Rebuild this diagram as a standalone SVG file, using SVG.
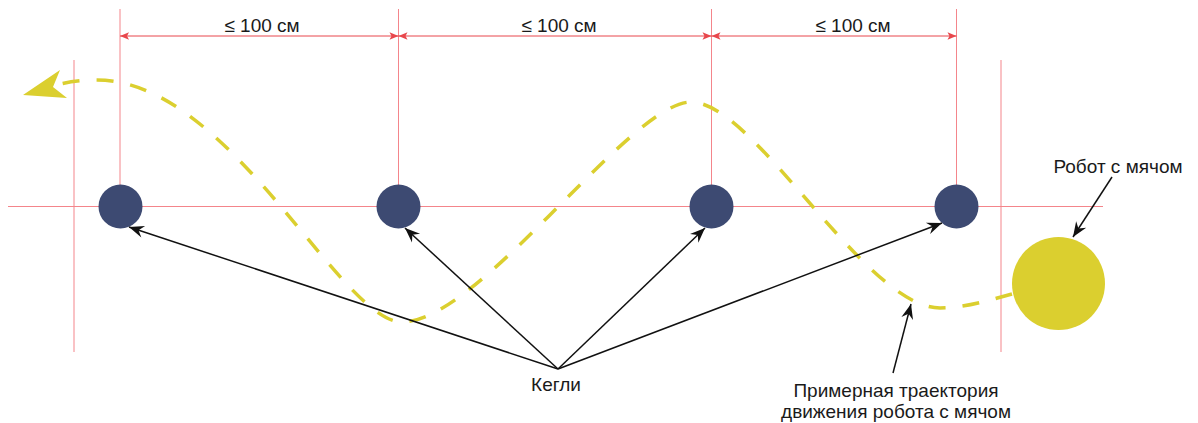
<svg xmlns="http://www.w3.org/2000/svg" width="1198" height="423" viewBox="0 0 1198 423">
<defs>
<style>
.guide{stroke:#f4858b;stroke-width:1;fill:none}
.dim{stroke:#e8474c;stroke-width:1;fill:none;marker-start:url(#dimA);marker-end:url(#dimA)}
.pin{fill:#3d4a72}
.ball{fill:#dbcf2f}
.traj{stroke:#dbcf2f;stroke-width:3.5;fill:none;stroke-dasharray:17 17}
.ptr{stroke:#111;stroke-width:1.5;fill:none;marker-end:url(#blk)}
.lbl{font-family:"Liberation Sans",Arial,sans-serif;font-size:19px;fill:#1a1a1a;text-anchor:middle}
</style>
<marker id="dimA" viewBox="-10 -5 12 10" refX="0" refY="0" markerWidth="12" markerHeight="10" markerUnits="userSpaceOnUse" orient="auto-start-reverse">
<path d="M0,0 L-9,-3.8 L-7,0 L-9,3.8 Z" fill="#e8474c"/>
</marker>
<marker id="blk" viewBox="-16 -7 18 14" refX="0" refY="0" markerWidth="18" markerHeight="14" markerUnits="userSpaceOnUse" orient="auto">
<path d="M0,0 L-15,-6 L-10,0 L-15,6 Z" fill="#111"/>
</marker>
</defs>
<rect width="1198" height="423" fill="#fff"/>
<g id="guides">
<line class="guide" x1="8" y1="206.5" x2="1103" y2="206.5"/>
<line class="guide" x1="74" y1="60" x2="74" y2="352"/>
<line class="guide" x1="1001" y1="60" x2="1001" y2="352"/>
<line class="guide" x1="120" y1="9" x2="120" y2="206"/>
<line class="guide" x1="398.5" y1="9" x2="398.5" y2="206"/>
<line class="guide" x1="711.5" y1="9" x2="711.5" y2="206"/>
<line class="guide" x1="956.5" y1="9" x2="956.5" y2="206"/>
</g>
<g id="dimensions">
<line class="dim" x1="120" y1="36" x2="398.5" y2="36"/>
<line class="dim" x1="398.5" y1="36" x2="711.5" y2="36"/>
<line class="dim" x1="711.5" y1="36" x2="956.5" y2="36"/>
<text class="lbl" x="262" y="32">≤ 100 см</text>
<text class="lbl" x="559" y="32">≤ 100 см</text>
<text class="lbl" x="853" y="32">≤ 100 см</text>
</g>
<g id="trajectory">
<path class="traj" d="M1012,294 C990,300 965,308 940,308 C865,308 755,102 691,102 C630,102 480,322 402,322 C340,322 230,80 97,80 C80,80 68,82 56,85"/>
<polygon points="23,95 60,70 53,87 67,98" fill="#dbcf2f"/>
</g>
<g id="pin1"><circle class="pin" cx="120.5" cy="206.5" r="22"/></g>
<g id="pin2"><circle class="pin" cx="398.5" cy="206.5" r="22"/></g>
<g id="pin3"><circle class="pin" cx="711.5" cy="206.5" r="22"/></g>
<g id="pin4"><circle class="pin" cx="956.5" cy="206.5" r="22"/></g>
<g id="ball"><circle class="ball" cx="1058.5" cy="283.5" r="46.5"/></g>
<g id="connectors">
<line class="ptr" x1="558" y1="369" x2="129" y2="227"/>
<line class="ptr" x1="558" y1="369" x2="405" y2="228"/>
<line class="ptr" x1="558" y1="369" x2="705" y2="228"/>
<line class="ptr" x1="558" y1="369" x2="942" y2="223"/>
<line class="ptr" x1="1112" y1="177" x2="1073" y2="237"/>
<line class="ptr" x1="893" y1="373" x2="911" y2="304"/>
</g>
<g id="label-robot"><text class="lbl" x="1118" y="173">Робот с мячом</text></g>
<g id="label-pins"><text class="lbl" x="556" y="391">Кегли</text></g>
<g id="label-traj"><text class="lbl" x="896" y="397">Примерная траектория</text><text class="lbl" x="896" y="418">движения робота с мячом</text></g>
</svg>
